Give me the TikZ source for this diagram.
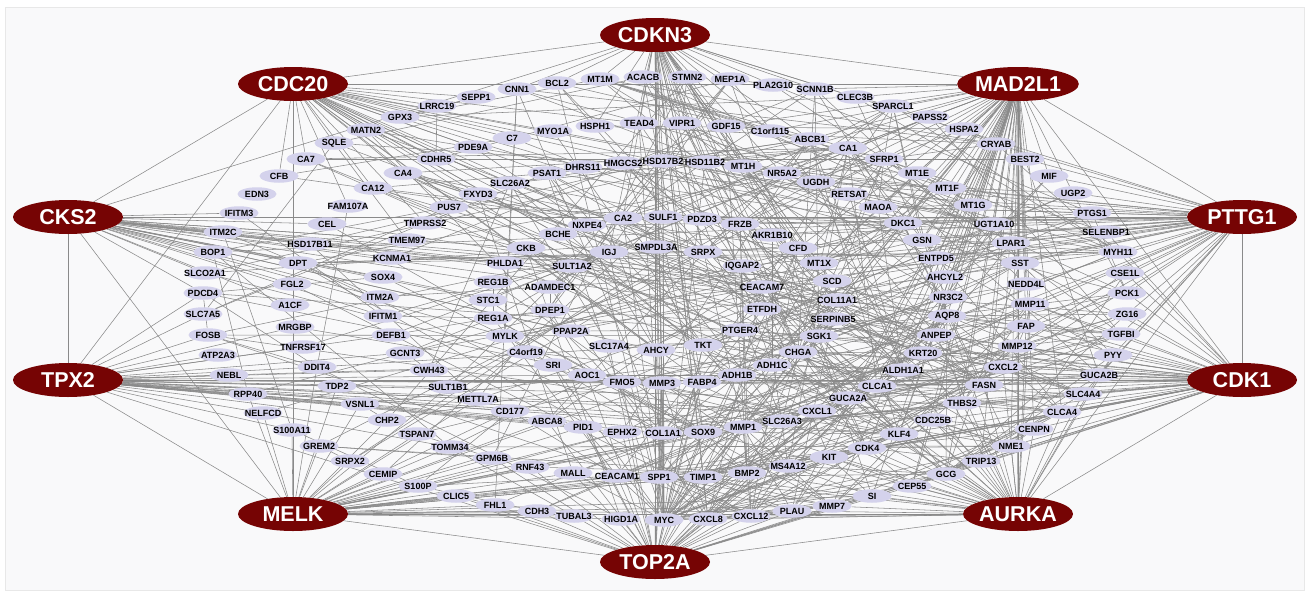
\documentclass[tikz,border=0pt]{standalone}
\usepackage{fontspec}
\setmainfont{Liberation Sans}
\usetikzlibrary{shapes.geometric}
\definecolor{hubred}{RGB}{118,4,4}
\definecolor{genefill}{RGB}{212,210,236}
\definecolor{edgegray}{RGB}{138,138,138}
\definecolor{panel}{RGB}{249,249,250}
\pgfdeclarelayer{bg}\pgfdeclarelayer{edges}\pgfsetlayers{bg,edges,main}
\tikzset{
 hub/.style={ellipse, fill=hubred, minimum width=110pt, minimum height=34pt, inner sep=0pt, text=white, font=\fontsize{21.5}{22}\selectfont\bfseries},
 gene/.style={ellipse, fill=genefill, minimum width=39pt, minimum height=13.5pt, inner sep=0pt},
 gtext/.style={inner sep=0pt, font=\fontsize{9}{9}\selectfont\bfseries, text=black},
 edge/.style={draw=edgegray, line width=0.55pt},
}
\newcommand\gn[3]{\node[gene] (#1) at (#2,#3) {}; \node[gtext] at (#1) {#1};}
\begin{document}
\begin{tikzpicture}[x=1pt,y=-1pt]
\useasboundingbox (0,0) rectangle (1309,592);
\begin{pgfonlayer}{bg}
\fill[white] (0,0) rectangle (1309,592);
\filldraw[fill=panel, draw=gray!18] (5,7) rectangle (1304,590);
\end{pgfonlayer}
% hubs
\node[hub] (CDKN3) at (655,35) {CDKN3};
\node[hub] (CDC20) at (293,84) {CDC20};
\node[hub] (MAD2L1) at (1018,84) {MAD2L1};
\node[hub] (CKS2) at (68,217) {CKS2};
\node[hub] (PTTG1) at (1242,217) {PTTG1};
\node[hub] (TPX2) at (68,380) {TPX2};
\node[hub] (CDK1) at (1242,380) {CDK1};
\node[hub] (MELK) at (293,514) {MELK};
\node[hub] (AURKA) at (1018,514) {AURKA};
\node[hub] (TOP2A) at (655,562) {TOP2A};
% outer ring
\gn{SEPP1}{476}{97}\gn{CNN1}{517}{89}\gn{BCL2}{557}{83}\gn{MT1M}{600}{79}
\gn{ACACB}{643}{77}\gn{STMN2}{687}{77}\gn{MEP1A}{730}{79}\gn{PLA2G10}{773}{85}
\gn{SCNN1B}{815}{89}\gn{CLEC3B}{855}{97}\gn{SPARCL1}{893}{106}\gn{PAPSS2}{930}{117}
\gn{HSPA2}{964}{129}\gn{CRYAB}{996}{144}\gn{BEST2}{1025}{159}\gn{MIF}{1049}{176}
\gn{UGP2}{1073}{193}\gn{PTGS1}{1092}{213}\gn{SELENBP1}{1106}{232}\gn{MYH11}{1118}{252}
\gn{CSE1L}{1125}{273}\gn{PCK1}{1127}{293}\gn{ZG16}{1127}{314}\gn{TGFBI}{1121}{334}
\gn{PYY}{1113}{355}\gn{GUCA2B}{1099}{375}\gn{SLC4A4}{1083}{394}\gn{CLCA4}{1062}{412}
\gn{CENPN}{1034}{429}\gn{NME1}{1011}{446}\gn{TRIP13}{981}{461}\gn{GCG}{946}{474}
\gn{CEP55}{912}{486}\gn{SI}{872}{496}\gn{MMP7}{832}{506}\gn{PLAU}{792}{511}
\gn{CXCL12}{751}{516}\gn{CXCL8}{708}{519}\gn{MYC}{664}{520}\gn{HIGD1A}{621}{519}
\gn{TUBAL3}{574}{516}\gn{CDH3}{537}{511}\gn{FHL1}{495}{505}\gn{CLIC5}{456}{496}
\gn{S100P}{418}{486}\gn{CEMIP}{383}{474}\gn{SRPX2}{350}{461}\gn{GREM2}{319}{446}
\gn{S100A11}{292}{430}\gn{NELFCD}{263}{413}\gn{RPP40}{248}{394}\gn{NEBL}{229}{375}
\gn{ATP2A3}{218}{355}\gn{FOSB}{208}{335}\gn{SLC7A5}{203}{314}\gn{PDCD4}{203}{293}
\gn{SLCO2A1}{205}{273}\gn{BOP1}{213}{252}\gn{ITM2C}{223}{232}\gn{IFITM3}{239}{213}
\gn{EDN3}{257}{194}\gn{CFB}{279}{176}\gn{CA7}{306}{159}\gn{SQLE}{334}{143}
\gn{MATN2}{366}{130}\gn{GPX3}{400}{117}\gn{LRRC19}{437}{106}
% second ring
\gn{C7}{512}{138}\gn{MYO1A}{553}{131}\gn{HSPH1}{595}{126}\gn{TEAD4}{639}{123}
\gn{VIPR1}{682}{123}\gn{GDF15}{726}{126}\gn{C1orf115}{770}{131}\gn{ABCB1}{810}{139}
\gn{CA1}{848}{148}\gn{SFRP1}{884}{159}\gn{MT1E}{917}{173}\gn{MT1F}{947}{188}
\gn{MT1G}{973}{205}\gn{UGT1A10}{994}{224}\gn{LPAR1}{1011}{243}\gn{SST}{1020}{263}
\gn{NEDD4L}{1026}{284}\gn{MMP11}{1030}{304}\gn{FAP}{1026}{326}\gn{MMP12}{1017}{346}
\gn{CXCL2}{1003}{367}\gn{FASN}{984}{385}\gn{THBS2}{962}{403}\gn{CDC25B}{933}{420}
\gn{KLF4}{899}{434}\gn{CDK4}{867}{448}\gn{KIT}{829}{457}\gn{MS4A12}{788}{466}
\gn{BMP2}{747}{473}\gn{TIMP1}{703}{477}\gn{SPP1}{659}{477}\gn{CEACAM1}{617}{476}
\gn{MALL}{573}{473}\gn{RNF43}{530}{467}\gn{GPM6B}{492}{458}\gn{TOMM34}{450}{447}
\gn{TSPAN7}{417}{434}\gn{CHP2}{387}{420}\gn{VSNL1}{360}{404}\gn{TDP2}{337}{386}
\gn{DDIT4}{317}{367}\gn{TNFRSF17}{303}{347}\gn{MRGBP}{295}{327}\gn{A1CF}{290}{305}
\gn{FGL2}{292}{284}\gn{DPT}{298}{263}\gn{HSD17B11}{310}{244}\gn{CEL}{327}{224}
\gn{FAM107A}{348}{206}\gn{CA12}{373}{188}\gn{CA4}{403}{173}\gn{CDHR5}{436}{159}
\gn{PDE9A}{473}{147}
% third ring
\gn{PSAT1}{547}{173}\gn{DHRS11}{583}{167}\gn{HMGCS2}{623}{163}\gn{HSD17B2}{663}{161}
\gn{HSD11B2}{705}{162}\gn{MT1H}{743}{166}\gn{NR5A2}{782}{173}\gn{UGDH}{816}{182}
\gn{RETSAT}{849}{194}\gn{MAOA}{878}{207}\gn{DKC1}{903}{223}\gn{GSN}{922}{240}
\gn{ENTPD5}{936}{258}\gn{AHCYL2}{945}{277}\gn{NR3C2}{948}{297}\gn{AQP8}{947}{316}
\gn{ANPEP}{936}{335}\gn{KRT20}{923}{353}\gn{ALDH1A1}{903}{370}\gn{CLCA1}{877}{386}
\gn{GUCA2A}{848}{398}\gn{CXCL1}{817}{411}\gn{SLC26A3}{782}{421}\gn{MMP1}{743}{427}
\gn{SOX9}{703}{432}\gn{COL1A1}{663}{433}\gn{EPHX2}{622}{432}\gn{PID1}{583}{427}
\gn{ABCA8}{547}{421}\gn{CD177}{510}{411}\gn{METTL7A}{478}{399}\gn{SULT1B1}{448}{387}
\gn{CWH43}{429}{370}\gn{GCNT3}{405}{353}\gn{DEFB1}{391}{335}\gn{IFITM1}{383}{316}
\gn{ITM2A}{380}{297}\gn{SOX4}{383}{277}\gn{KCNMA1}{392}{258}\gn{TMEM97}{407}{240}
\gn{TMPRSS2}{425}{223}\gn{PUS7}{449}{207}\gn{FXYD3}{478}{194}\gn{SLC26A2}{510}{183}
% fourth ring
\gn{NXPE4}{587}{225}\gn{CA2}{623}{218}\gn{SULF1}{663}{217}\gn{PDZD3}{702}{219}
\gn{FRZB}{740}{224}\gn{AKR1B10}{772}{235}\gn{CFD}{798}{248}\gn{MT1X}{819}{263}
\gn{SCD}{832}{281}\gn{COL11A1}{837}{300}\gn{SERPINB5}{833}{319}\gn{SGK1}{819}{336}
\gn{CHGA}{798}{352}\gn{ADH1C}{772}{365}\gn{ADH1B}{737}{375}\gn{FABP4}{702}{382}
\gn{MMP3}{662}{383}\gn{FMO5}{622}{382}\gn{AOC1}{587}{375}\gn{SRI}{553}{365}
\gn{C4orf19}{526}{352}\gn{MYLK}{505}{336}\gn{REG1A}{493}{318}\gn{STC1}{488}{300}
\gn{REG1B}{493}{282}\gn{PHLDA1}{505}{263}\gn{CKB}{526}{248}\gn{BCHE}{558}{234}
% fifth ring
\gn{IGJ}{609}{252}\gn{SMPDL3A}{656}{247}\gn{SRPX}{703}{252}\gn{IQGAP2}{742}{266}
\gn{CEACAM7}{762}{287}\gn{ETFDH}{762}{309}\gn{PTGER4}{740}{330}\gn{TKT}{703}{345}
\gn{AHCY}{656}{350}\gn{SLC17A4}{609}{346}\gn{PPAP2A}{571}{331}\gn{DPEP1}{550}{310}
\gn{ADAMDEC1}{550}{287}\gn{SULT1A2}{572}{266}
\begin{pgfonlayer}{edges}
% hub-hub
\foreach \a/\b in {CDKN3/MAD2L1,MAD2L1/PTTG1,PTTG1/CDK1,CDK1/AURKA,AURKA/TOP2A,TOP2A/MELK,MELK/TPX2,TPX2/CKS2,CKS2/CDC20,CDC20/CDKN3,
 CDKN3/PTTG1,MAD2L1/CDK1,PTTG1/AURKA,CDK1/TOP2A,AURKA/MELK,TOP2A/TPX2,MELK/CKS2,TPX2/CDC20,CKS2/CDKN3,CDC20/MAD2L1,
 CKS2/PTTG1,TPX2/CDK1,CDC20/MELK,MAD2L1/AURKA,CDKN3/TOP2A}
 {\draw[edge] (\a) -- (\b);}
% hub-gene
\foreach \h/\l in {
CDKN3/{BCL2,MT1M,ACACB,STMN2,MEP1A,PLA2G10,SCNN1B,CNN1,TEAD4,VIPR1,GDF15,HSPH1,C1orf115,HSD17B2,HSD11B2,MT1H,SULF1,SMPDL3A,CA2,IGJ,CFD,MT1X,COL11A1,SERPINB5,TKT,MMP3,COL1A1,SOX9,TIMP1,SPP1,MYC,CXCL8,MMP1,CLEC3B,ABCB1,NR5A2,SCD,CHGA,ADH1C,SRPX,PDZD3,KIT,CDK4},
CDC20/{SEPP1,LRRC19,GPX3,MATN2,CDHR5,PDE9A,FXYD3,SLC26A2,PSAT1,DHRS11,PUS7,TMPRSS2,NXPE4,BCHE,CA4,CA12,SQLE,CA7,CFB,C7,TEAD4,MT1H,UGDH,MAOA,DKC1,AKR1B10,ETFDH,AHCY,FABP4,CLCA1,GUCA2A,CDK4,CEACAM7,FAM107A},
MAD2L1/{SPARCL1,PAPSS2,HSPA2,CRYAB,BEST2,MIF,UGP2,CLEC3B,SCNN1B,MT1E,MT1F,MT1G,SFRP1,CA1,RETSAT,MAOA,DKC1,GSN,UGT1A10,LPAR1,SST,ENTPD5,AHCYL2,NR3C2,AQP8,ANPEP,KRT20,ALDH1A1,CXCL2,FASN,MMP12,FAP,MMP11,NEDD4L,THBS2,CDC25B,CLCA4,KLF4,CDK4,KIT,GCG,CEP55,SI,TRIP13,NME1,CENPN,C1orf115,GDF15,ABCB1,CFD,MT1X,SCD,COL11A1,SGK1,CHGA,ADH1C,CLCA1,GUCA2A,PLAU,MMP7,UGDH,NR5A2,MT1H},
CKS2/{IFITM3,ITM2C,BOP1,SLCO2A1,PDCD4,HSD17B11,DPT,FGL2,KCNMA1,SOX4,ITM2A,TMEM97,CEL,A1CF,IFITM1,STC1,REG1B,PHLDA1,DPEP1,MYLK,SERPINB5,COL11A1,CEACAM7,NR3C2,FAP,SCD,AHCY,PPAP2A,CKB},
PTTG1/{MIF,UGP2,PTGS1,SELENBP1,MYH11,CSE1L,PCK1,ZG16,TGFBI,PYY,GUCA2B,SLC4A4,UGT1A10,LPAR1,SST,NEDD4L,MMP11,FAP,ENTPD5,AHCYL2,GSN,DKC1,MAOA,RETSAT,UGDH,NR5A2,FRZB,AKR1B10,PDZD3,SRPX,IQGAP2,CEACAM7,MT1G,MT1F,BEST2,CRYAB,MMP12,ANPEP,KRT20,CXCL2,SCD,ETFDH,MT1X,CFD,SULF1,NXPE4},
TPX2/{FOSB,ATP2A3,NEBL,RPP40,NELFCD,S100A11,SLC7A5,PDCD4,TNFRSF17,MRGBP,DDIT4,TDP2,GCNT3,CWH43,DEFB1,SULT1B1,VSNL1,CHP2,METTL7A,CD177,ABCA8,PID1,EPHX2,SRI,AOC1,FMO5,MMP3,FABP4,SLC26A3,MMP1,CXCL1,GUCA2A,COL1A1,SOX9,FASN,CDC25B,KLF4},
CDK1/{TGFBI,PYY,GUCA2B,SLC4A4,CLCA4,CENPN,NME1,TRIP13,GCG,CEP55,FASN,CXCL2,MMP12,THBS2,CDC25B,KLF4,CDK4,KIT,MS4A12,SLC26A3,CXCL1,GUCA2A,CLCA1,ALDH1A1,KRT20,ANPEP,AQP8,NR3C2,FAP,PCK1,ZG16,CSE1L,MMP11,SST,CHGA,SGK1,ADH1C,MMP1,BMP2,TIMP1,PTGER4,TKT,SERPINB5,MYH11,SELENBP1,ADH1B,FABP4},
MELK/{CEMIP,SRPX2,GREM2,S100A11,S100P,CLIC5,FHL1,CDH3,TUBAL3,TSPAN7,CHP2,VSNL1,TOMM34,GPM6B,RNF43,MALL,CEACAM1,SPP1,PID1,ABCA8,CD177,METTL7A,EPHX2,COL1A1,SOX9,MMP1,TIMP1,MMP3,KIT,CDK4,MS4A12,BMP2,PLAU,MMP7,SI,SLC26A3,NELFCD,RPP40,TDP2,SULT1B1,DDIT4,HIGD1A},
AURKA/{SI,CEP55,GCG,TRIP13,NME1,CENPN,CLCA4,SLC4A4,KLF4,CDC25B,THBS2,FASN,CXCL2,MMP12,CDK4,KIT,MMP7,PLAU,CXCL12,CXCL8,MYC,BMP2,MS4A12,TIMP1,SPP1,SOX9,MMP1,SLC26A3,CXCL1,GUCA2A,CLCA1,ALDH1A1,KRT20,ANPEP,CHGA,ADH1C,FAP,GUCA2B,PYY,SGK1,AQP8,MMP11},
TOP2A/{MYC,CXCL8,CXCL12,HIGD1A,TUBAL3,CDH3,PLAU,MMP7,SI,SPP1,TIMP1,CEACAM1,MALL,RNF43,COL1A1,SOX9,MMP1,BMP2,MS4A12,KIT,CDK4,EPHX2,PID1,MMP3,FABP4,ADH1B,AHCY,TKT,FMO5,AOC1,SLC26A3,CXCL1,GUCA2A,CLCA1,GPM6B,FHL1,CLIC5,CEP55,GCG,ABCA8,SRI,SLC17A4}}
 {\foreach \t in \l {\draw[edge] (\h) -- (\t);}}
% gene-gene
\foreach \h/\l in {
MYC/{SPP1,TIMP1,MMP1,SOX9,COL1A1,CXCL12,BMP2,KIT,CDK4,KLF4,CDC25B,NME1,TRIP13,CEP55,MMP3,MMP7,FABP4,AHCY,TKT,CEACAM1,MALL,PID1,SRI,ALDH1A1,FASN,GCG,SLC26A3,CXCL1,GUCA2A,CLCA1,HSD11B2,HSD17B2,SCD,MT1X,CFD,SULF1,SMPDL3A,CA2,IGJ,PSAT1,DKC1,TEAD4,BCL2},
MMP1/{MMP3,MMP7,MMP12,MMP11,COL11A1,TIMP1,SPP1,CXCL8,CXCL1,CXCL2,CXCL12,PLAU,FAP,THBS2,SERPINB5,TGFBI,BMP2,KLF4},
SPP1/{COL1A1,TIMP1,CXCL12,CXCL8,MMP3,MMP7,PLAU,KIT,CDK4,SOX9,FABP4,CHGA,SST,GCG},
CXCL8/{CXCL1,CXCL2,CXCL12,PLAU,TIMP1,MMP3,MMP7,SI,SLC26A3,CEACAM7,GUCA2A,MIF},
CDK4/{CDC25B,KLF4,NME1,TRIP13,CEP55,KIT,PLAU,CENPN,CLCA4,CSE1L,BCL2},
GCG/{SST,PYY,CHGA,GUCA2A,GUCA2B,MS4A12,SI,CLCA4,SLC4A4,CLCA1,ZG16,AQP8},
SST/{PYY,CHGA,VIPR1,NR3C2,LPAR1,UGT1A10},
CLCA1/{CLCA4,GUCA2A,GUCA2B,ZG16,AQP8,SLC26A3,MS4A12,CA1,CA2,CA4,CA7,CA12,CEACAM7,SLC4A4,KRT20},
CA1/{CA2,CA4,CA7,CA12,AQP8,SLC26A2,SLC26A3,CLCA4,GUCA2B,CEACAM7,MS4A12,SELENBP1},
ALDH1A1/{ADH1B,ADH1C,AKR1B10,UGDH,UGT1A10,HSD17B2,HSD11B2,HMGCS2,ABCB1,MAOA,FABP4,PCK1,RETSAT},
FABP4/{ADH1B,PCK1,ACACB,FASN,SCD,HMGCS2,AQP8,PTGS1,LPAR1,NR3C2},
FASN/{SCD,ACACB,HMGCS2,PSAT1,TKT,AHCY,DKC1,MT1X,SQLE},
MT1X/{MT1E,MT1F,MT1G,MT1H,MT1M},MT1E/{MT1F,MT1G,MT1H,MT1M},MT1F/{MT1G,MT1H,MT1M},MT1G/{MT1H,MT1M},MT1H/{MT1M},
KIT/{KLF4,PLAU,CEP55,SI},
CXCL12/{CXCL2,CXCL1,PLAU,SFRP1,FRZB,CFD,DPT,FGL2,FOSB},
TIMP1/{PLAU,MMP7,MMP12,MMP11,CXCL1,THBS2,SERPINB5,TGFBI,CFD},
COL1A1/{COL11A1,SPARCL1,THBS2,SFRP1,DPT,TGFBI,MYH11,CNN1,MYLK,FAP,MATN2},
BMP2/{SOX9,KLF4,SFRP1,FRZB,GDF15,STC1,GREM2},
SOX9/{KLF4,TEAD4,COL11A1,REG1A,REG1B,SOX4,RNF43},
KLF4/{CDC25B,SGK1,FOSB,PDCD4,NR3C2,ABCB1,CEACAM1,CEACAM7},
CDC25B/{NME1,CENPN,TRIP13,CEP55},
NME1/{TRIP13,CENPN,CEP55,DKC1,AHCY,TKT,PSAT1,TOMM34},
PLAU/{MMP7,SERPINB5,SI},MMP7/{MMP3,MMP12,MMP11,SI,CLCA4,REG1A},
CHGA/{PYY,VIPR1,STMN2,SCNN1B,GUCA2A,CHP2,VSNL1},PYY/{GUCA2B,GUCA2A,VIPR1},
GUCA2A/{GUCA2B,SLC26A3,CA7,CA4,AQP8,ZG16,CLCA4},AQP8/{SLC26A3,CA4,ZG16,MS4A12,CLCA4,GUCA2B},
ABCB1/{ABCA8,SLCO2A1,UGT1A10,SLC26A2,HSD17B2,NR5A2,EPHX2},
UGT1A10/{UGDH,HSD17B2,HSD11B2,UGP2,ADH1C,FMO5},HSD11B2/{HSD17B2,NR3C2,SGK1,SCNN1B,CA2},
HSD17B2/{HSD17B11,AKR1B10,RETSAT,METTL7A},
SFRP1/{FRZB,SPARCL1,CLEC3B,DPT,MYH11,CRYAB,HSPA2,GSN,MAOA,TGFBI,SULF1,GREM2},
CRYAB/{HSPA2,HSPH1,MYH11,CNN1,GSN,SPARCL1,MT1M},
MYH11/{CNN1,MYLK,GSN,SPARCL1,DPT,CLEC3B,MATN2,FHL1,KCNMA1},GSN/{CNN1,MYLK,SPARCL1,LPAR1},
TKT/{AHCY,PSAT1,AHCYL2,PCK1,UGP2,DKC1,CKB},AHCY/{AHCYL2,PSAT1,DHRS11,CKB},
REG1A/{REG1B,DPEP1,CEACAM1,CEACAM7,DEFB1,IFITM1,IGJ,CEL},
CEACAM7/{CEACAM1,GUCA2B,MS4A12,CA4,CLCA4,ZG16},CEACAM1/{KRT20,ANPEP,SLC26A3,CD177,CDH3,S100P},
KRT20/{ANPEP,CDH3,FXYD3,LPAR1,MALL,S100P},ANPEP/{DPEP1,MEP1A,AQP8,SLC17A4,IGJ},
IGJ/{DEFB1,ADAMDEC1,IFITM1,FOSB,TNFRSF17},SLC26A3/{SLC26A2,SLC4A4,SLC17A4,SLCO2A1,CA2,PDZD3},
SLC4A4/{CA2,CA4,CA12,SLC26A2,PDZD3},SERPINB5/{SGK1,KRT20,GSN,TGFBI},
SGK1/{NEDD4L,SCNN1B,NR3C2,PDCD4,TSPAN7,DDIT4},NEDD4L/{SCNN1B,NR3C2},
TGFBI/{FAP,MMP11,COL11A1,THBS2,MMP12,PAPSS2},FAP/{MMP11,MMP12,COL11A1,THBS2},THBS2/{COL11A1,MMP11,SPARCL1},
PCK1/{HMGCS2,UGP2,ACACB,PTGS1},PTGS1/{MAOA,PTGER4,PLA2G10,SLCO2A1},
DKC1/{PUS7,RPP40,TOMM34,PSAT1,BOP1,NELFCD},BOP1/{RPP40,PUS7,TOMM34},SLC7A5/{PSAT1,PUS7,SQLE},
SQLE/{HMGCS2,ACACB,TMEM97},DPEP1/{ADAMDEC1,SULT1A2,MEP1A},MEP1A/{IGJ,ADAMDEC1,SI},SI/{MS4A12,CLCA4},
CENPN/{TRIP13,CEP55},TRIP13/{CEP55},FOSB/{PDCD4,DDIT4,SGK1},DDIT4/{PDCD4,HIGD1A},GCNT3/{REG1A,CEACAM7,CWH43},
AOC1/{ADH1B,DPEP1},FMO5/{ADH1C,AOC1},VSNL1/{CHP2},CHP2/{STMN2},GPM6B/{TSPAN7,STMN2,GREM2},GREM2/{SRPX2},
SRPX2/{SPARCL1,SRPX},SRPX/{SPARCL1,DPT},CEMIP/{SULF1},S100P/{S100A11,CD177},S100A11/{ITM2C},CLIC5/{FHL1},
FHL1/{CNN1},CDH3/{S100P},RNF43/{BMP2},MALL/{FXYD3},METTL7A/{HSD17B11,SCD},ABCA8/{CFD},EPHX2/{ADH1B},
NELFCD/{TOMM34},ITM2C/{ITM2A},IFITM3/{IFITM1},CFB/{CFD,C7},C7/{CFD},CEL/{CEACAM7},DPT/{CFD},MRGBP/{NME1},
KCNMA1/{SCNN1B},GPX3/{MT1M,SEPP1,CLEC3B},MATN2/{COL11A1},CNN1/{MYLK},BCL2/{SFRP1,KLF4},STMN2/{VIPR1},
CLEC3B/{SPARCL1},PAPSS2/{SULT1A2,SULT1B1},HSPA2/{HSPH1},BEST2/{CA7,GUCA2B},MIF/{CXCL12},UGP2/{UGDH},
CSE1L/{NME1},NR5A2/{NR3C2},LPAR1/{PLA2G10,PPAP2A},AKR1B10/{ADH1C},PDZD3/{SLC26A2},SULF1/{SPARCL1},
CA2/{CA4,CA12},SULT1A2/{SULT1B1},STC1/{PAPSS2},ETFDH/{ACACB,HMGCS2},PTGER4/{IQGAP2},ADH1C/{ADH1B},
CXCL1/{CXCL2},LRRC19/{CDHR5},PDE9A/{NXPE4},CDHR5/{MEP1A},FAM107A/{DDIT4},TMPRSS2/{KRT20},ITM2A/{MYH11},
SOX4/{PDCD4},CWH43/{SLC26A2},TUBAL3/{TOMM34},HIGD1A/{CKB},BCHE/{ADH1B},PHLDA1/{KLF4},C4orf19/{CLCA4},
SMPDL3A/{ENTPD5},NXPE4/{CA1},SLC17A4/{SLC26A2},PPAP2A/{PTGER4},ADAMDEC1/{CXCL8},C1orf115/{MT1M},
VIPR1/{HSD11B2},GDF15/{CDK4},TEAD4/{CDK4},MYO1A/{MS4A12},UGDH/{HSD11B2},RETSAT/{DHRS11},MAOA/{MT1G},
ENTPD5/{AQP8},AHCYL2/{UGT1A10},NR3C2/{SGK1},SELENBP1/{CA2},ZG16/{MS4A12},SCNN1B/{NR3C2},PLA2G10/{MEP1A},
ACACB/{SCD},MT1M/{CA1},SEPP1/{GPX3}}
 {\foreach \t in \l {\draw[edge] (\h) -- (\t);}}
\end{pgfonlayer}
\end{tikzpicture}
\end{document}
